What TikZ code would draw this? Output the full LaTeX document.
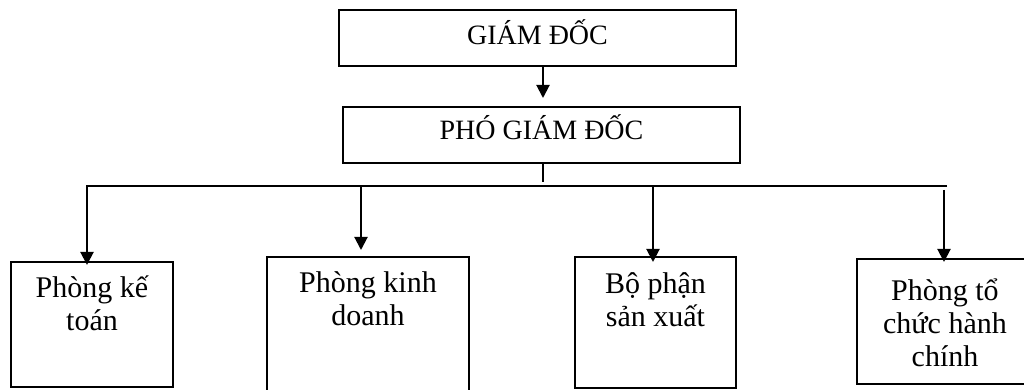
\documentclass[tikz,border=0pt]{standalone}
\usepackage{fontspec}
\setmainfont{Liberation Serif}
\usetikzlibrary{arrows.meta,calc}
\begin{document}
\begin{tikzpicture}[x=0.5pt,y=-0.5pt,
  line width=1pt,
  headbox/.style={draw, line width=1pt, inner sep=0pt, text depth=0pt, font=\fontsize{14}{16}\selectfont},
  unitbox/.style={draw, line width=1pt, inner sep=0pt},
  unittext/.style={inner sep=0pt, align=center, anchor=north, font=\fontsize{15}{16.5}\selectfont},
  arr/.style={-{Triangle[width=6.5pt,length=6.5pt]}, line width=1pt},
  link/.style={line width=1pt}]
\useasboundingbox (0,0) rectangle (1024,390);
\clip (0,0) rectangle (1024,390);

% management
\node[headbox, text height=7pt, minimum width=198.5pt, minimum height=28pt] (gd) at (537.5,38) {GIÁM ĐỐC};
\node[headbox, text height=5pt, minimum width=198.5pt, minimum height=28pt] (pgd) at (541.5,135) {PHÓ GIÁM ĐỐC};

% departments
\node[unitbox, minimum width=81pt, minimum height=62.5pt] (A) at (92,324.5) {};
\node[unitbox, minimum width=101pt, minimum height=71.5pt] (B) at (368,328.5) {};
\node[unitbox, minimum width=80.5pt, minimum height=65.5pt] (C) at (655.5,322.5) {};
\node[unitbox, minimum width=88pt, minimum height=62.5pt] (D) at (945,321.5) {};

\node[unittext, yshift=-1.5pt] (tA) at (A.north) {\rule{0pt}{16pt}Phòng kế\\toán};
\node[unittext, yshift=-1.5pt] (tB) at (B.north) {\rule{0pt}{16pt}Phòng kinh\\doanh};
\node[unittext, yshift=-2pt] (tC) at (C.north) {\rule{0pt}{16pt}Bộ phận\\sản xuất};
\node[unittext, yshift=-4.5pt] (tD) at (D.north) {\rule{0pt}{16pt}Phòng tổ\\chức hành\\chính};

% connectors
\coordinate (t0) at (543,98);
\coordinate (tr) at (543,182);
\coordinate (busL) at (87,186);
\coordinate (busR) at (947,186);
\coordinate (aA) at (87,265);
\coordinate (aB) at (361,250);
\coordinate (aC) at (653,262);
\coordinate (dTop) at (944,190);
\coordinate (aD) at (944,262);

\draw[arr] (gd.south -| t0) -- (t0);
\draw[link] (pgd.south -| tr) -- (tr);
\draw[arr, line join=miter] (busR) -- (busL) -- (aA);
\draw[arr] (aB |- busL) -- (aB);
\draw[arr] (aC |- busL) -- (aC);
\draw[arr] (dTop) -- (aD);
\end{tikzpicture}
\end{document}
